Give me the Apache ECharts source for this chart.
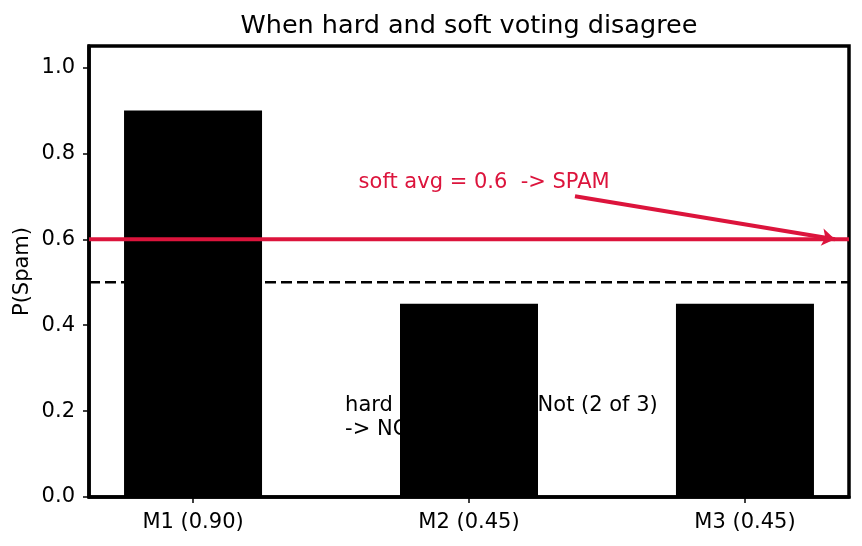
<!DOCTYPE html>
<html><head><meta charset="utf-8">
<script src="https://cdn.jsdelivr.net/npm/echarts@6/dist/echarts.min.js"></script>
<style>html,body{margin:0;padding:0;background:#fff}#c{width:862px;height:546px}</style>
</head><body><div id="c"></div>
<script>
const categories = ['M1 (0.90)', 'M2 (0.45)', 'M3 (0.45)'];
const probs = [0.90, 0.45, 0.45];
const softAvg = 0.6;
const threshold = 0.5;
const yTicks = [0, 0.2, 0.4, 0.6, 0.8, 1.0];
const softText = 'soft avg = 0.6  -> SPAM';
const hardText = 'hard vote: winner Not (2 of 3)\n-> NOT SPAM';
const arrowFrom = [1.384, 0.70];
const arrowTo = [2.326, 0.60];
const softTextPos = [0.60, 0.733];
const hardTextPos = [0.551, 0.241];

const xMin = -0.377, xMax = 2.377;
const font = 'DejaVu Sans';
const chart = echarts.init(document.getElementById('c'));
chart.setOption({
  animation: false,
  title: { text: 'When hard and soft voting disagree', left: 464, top: 8, textAlign: 'center',
    textStyle: { fontFamily: font, fontSize: 25.5, fontWeight: 'normal', color: '#000' } },
  grid: { left: 89, right: 13, top: 46, bottom: 49, show: true, borderColor: '#000', borderWidth: 3.5 },
  xAxis: { type: 'value', min: xMin, max: xMax,
    splitLine: { show: false },
    axisLine: { show: true, onZero: false, lineStyle: { color: '#000', width: 3.5 } },
    axisTick: { show: true, customValues: [0, 1, 2], length: 6, lineStyle: { color: '#000', width: 1.5 } },
    axisLabel: { customValues: [0, 1, 2], formatter: v => categories[Math.round(v)], color: '#000', fontFamily: font, fontSize: 21, margin: 15 } },
  yAxis: { type: 'value', min: 0, max: 1.05, name: 'P(Spam)', nameLocation: 'middle', nameGap: 56, nameMoveOverlap: false,
    nameTextStyle: { fontFamily: font, fontSize: 21, color: '#000' },
    splitLine: { show: false },
    axisLine: { show: true, onZero: false, lineStyle: { color: '#000', width: 3.5 } },
    axisTick: { show: true, customValues: yTicks, length: 6, lineStyle: { color: '#000', width: 1.5 } },
    axisLabel: { customValues: yTicks, formatter: v => v.toFixed(1), color: '#000', fontFamily: font, fontSize: 21, margin: 14 } },
  series: [
    { type: 'scatter', z: 1, symbolSize: 0, silent: true, itemStyle: { opacity: 1 },
      data: [hardTextPos],
      label: { show: true, position: 'inside', formatter: hardText, align: 'left', verticalAlign: 'top',
        color: '#000', opacity: 1, fontFamily: font, fontSize: 21, lineHeight: 24 } },
    { type: 'line', z: 1, symbol: 'none', lineStyle: { color: '#000', width: 2.5, type: [11, 5] },
      data: [[xMin, threshold], [xMax, threshold]] },
    { type: 'bar', z: 2, barWidth: 138, itemStyle: { color: '#000' },
      data: probs.map((p, i) => [i, p]) },
    { type: 'line', z: 4, symbol: 'none', lineStyle: { color: '#DC143C', width: 4 },
      data: [[xMin, softAvg], [xMax, softAvg]] },
    { type: 'line', z: 5, symbol: 'none', data: [],
      markLine: { silent: true, symbol: ['none', 'arrow'], symbolSize: [13, 13],
        lineStyle: { color: '#DC143C', width: 4, type: 'solid' }, label: { show: false },
        data: [[{ coord: arrowFrom }, { coord: arrowTo }]] } },
    { type: 'scatter', z: 6, symbolSize: 0, silent: true, itemStyle: { opacity: 1 },
      data: [softTextPos],
      label: { show: true, position: 'inside', formatter: softText, align: 'left', verticalAlign: 'middle',
        color: '#DC143C', opacity: 1, fontFamily: font, fontSize: 21 } }
  ]
});
</script></body></html>
